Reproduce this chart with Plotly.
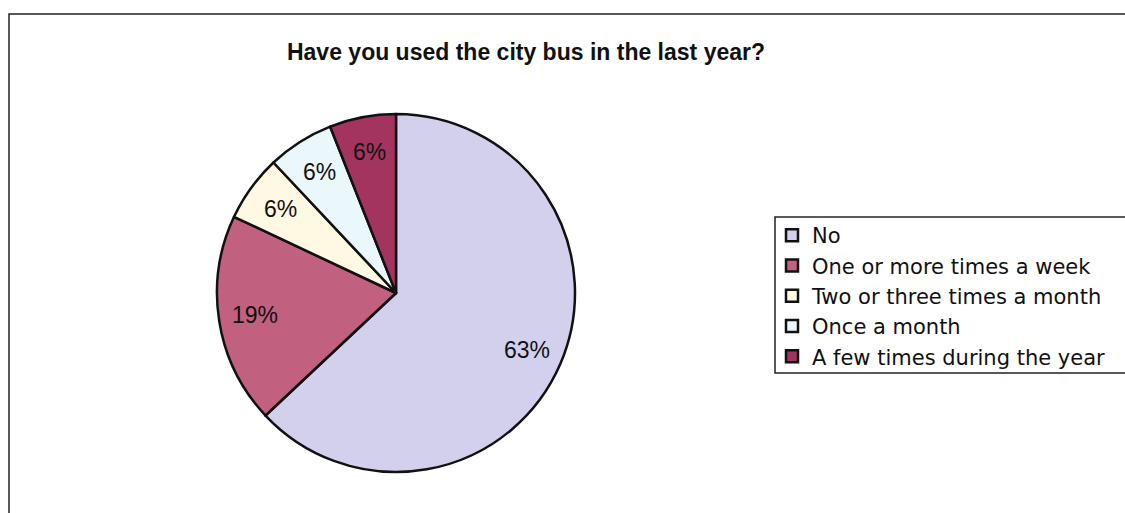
import math
import plotly.graph_objects as go

categories = ["No", "One or more times a week", "Two or three times a month",
              "Once a month", "A few times during the year"]
shares = [63, 19, 6, 6, 6]
colors = ["#D3D0EE", "#C2607F", "#FFF8E3", "#EAF8FC", "#A3345F"]

W, H = 1125, 513

# pie placement (pixels)
CX, CY, R = 396, 293, 179
LABEL_R = 0.8 * R

fig = go.Figure(go.Pie(
    labels=categories,
    values=shares,
    sort=False,
    direction="clockwise",
    rotation=0,
    marker=dict(colors=colors, line=dict(color="#111111", width=2.5)),
    textinfo="none",
    domain=dict(x=[(CX - R) / W, (CX + R) / W], y=[1 - (CY + R) / H, 1 - (CY - R) / H]),
    hoverinfo="label+percent",
))

# percentage labels placed at the middle angle of each slice
total = sum(shares)
annotations = []
cum = 0
for v in shares:
    mid = (cum + v / 2) / total * 2 * math.pi
    cum += v
    px = CX + LABEL_R * math.sin(mid)
    py = CY - LABEL_R * math.cos(mid)
    annotations.append(dict(
        x=px / W, y=1 - py / H, xref="paper", yref="paper",
        text=f"{v / total * 100:.0f}%", showarrow=False,
        xanchor="center", yanchor="middle",
        font=dict(family="Liberation Sans, Arial, sans-serif", size=23, color="#111111"),
    ))

fig.update_layout(
    width=W, height=H,
    margin=dict(l=0, r=0, t=0, b=0),
    paper_bgcolor="white",
    plot_bgcolor="white",
    annotations=annotations,
    title=dict(
        text="<b>Have you used the city bus in the last year?</b>",
        x=526 / W, xanchor="center",
        y=1 - 52 / H, yanchor="middle",
        font=dict(family="Liberation Sans, Arial, sans-serif", size=23, color="#111111"),
    ),
    legend=dict(
        x=772 / W, xanchor="left",
        y=1 - 215 / H, yanchor="top",
        borderwidth=0,
        bgcolor="rgba(0,0,0,0)",
        itemwidth=30,
        font=dict(family="DejaVu Sans, sans-serif", size=21, color="#111111"),
        tracegroupgap=0,
    ),
    shapes=[
        # chart frame
        dict(type="rect", xref="paper", yref="paper",
             x0=9 / W, x1=1.01, y0=-0.01, y1=1 - 14 / H,
             line=dict(color="#222222", width=1.5)),
        # legend frame (runs past the right edge)
        dict(type="rect", xref="paper", yref="paper",
             x0=775 / W, x1=1.01, y0=1 - 373 / H, y1=1 - 217 / H,
             line=dict(color="#222222", width=1.5)),
    ],
)

fig.write_html("out.html")
